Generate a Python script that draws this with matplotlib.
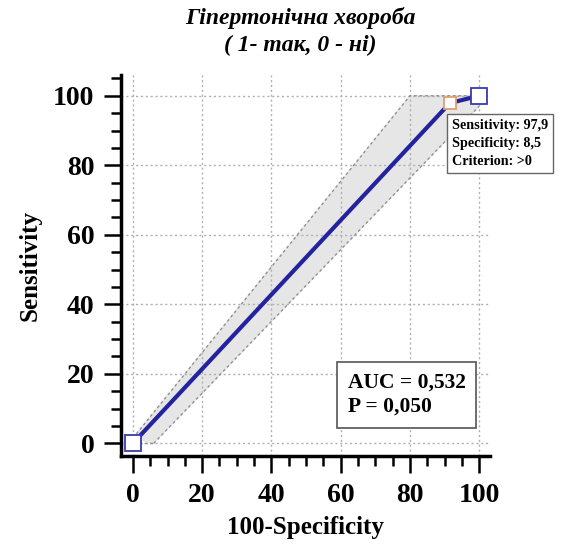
import matplotlib.pyplot as plt
from matplotlib.ticker import MultipleLocator

# ROC curve points (100-Specificity, Sensitivity)
fpr = [0, 91.5, 100]
tpr = [0, 97.9, 100]

# 95% confidence band around the curve
band_upper_x = [0, 80, 100]
band_upper_y = [1.5, 100, 100]
band_lower_x = [6, 100]
band_lower_y = [0, 97]

title = "Гіпертонічна хвороба\n( 1- так, 0 - ні)"
auc_text = "AUC = 0,532\nP = 0,050"
point_text = "Sensitivity: 97,9\nSpecificity: 8,5\nCriterion: >0"

plt.rcParams['font.family'] = ['Liberation Serif', 'DejaVu Serif']

fig = plt.figure(figsize=(5.78, 5.47), dpi=100)
ax = fig.add_axes([0.209, 0.166, 0.638, 0.697])

# confidence band polygon
poly_x = band_upper_x + band_lower_x[::-1]
poly_y = band_upper_y + band_lower_y[::-1]
ax.fill(poly_x, poly_y, color='#e6e6e6', zorder=1)
ax.plot(band_upper_x, band_upper_y, color='#909090', ls=(0, (2, 2)), lw=1, zorder=2)
ax.plot(band_lower_x, band_lower_y, color='#909090', ls=(0, (2, 2)), lw=1, zorder=2)
ax.plot([0, band_lower_x[0]], [0, 0], color='#909090', ls=(0, (2, 2)), lw=1, zorder=2)

# ROC curve
ax.plot(fpr, tpr, color='#2323a0', lw=3, zorder=3)
ax.plot([fpr[0], fpr[2]], [tpr[0], tpr[2]], ls='none', marker='s', ms=11,
        mfc='white', mec='#3a3ab0', mew=1.3, zorder=4)
ax.plot([fpr[1]], [tpr[1]], ls='none', marker='s', ms=9,
        mfc='white', mec='#e0a070', mew=1.3, zorder=4)

ax.set_xlim(-3.5, 103)
ax.set_ylim(-3.7, 106)

ax.xaxis.set_major_locator(MultipleLocator(20))
ax.xaxis.set_minor_locator(MultipleLocator(5))
ax.yaxis.set_major_locator(MultipleLocator(20))
ax.yaxis.set_minor_locator(MultipleLocator(5))
ax.grid(True, which='major', color='#b0b0b0', ls=(0, (1.5, 2)), lw=1, zorder=0)

for side in ['top', 'right']:
    ax.spines[side].set_visible(False)
for side in ['left', 'bottom']:
    ax.spines[side].set_linewidth(2.5)

ax.tick_params(which='major', direction='out', length=12, width=1.8, pad=7,
               labelsize=20)
ax.tick_params(which='minor', direction='out', length=7, width=1.8)
for lab in ax.get_xticklabels() + ax.get_yticklabels():
    lab.set_fontweight('bold')

ax.set_xlabel("100-Specificity", fontsize=18, fontweight='bold', labelpad=6)
ax.set_ylabel("Sensitivity", fontsize=18, fontweight='bold', labelpad=8)

fig.text(0.52, 0.942, title, ha='center', va='center', fontsize=17,
         fontweight='bold', fontstyle='italic', linespacing=1.35)

ax.text(62, 14, auc_text, fontsize=15.5, fontweight='bold', va='center',
        linespacing=1.3,
        bbox=dict(boxstyle='square,pad=0.5', fc='white', ec='#555555', lw=1.2),
        zorder=5)

fig.text(0.782, 0.738, point_text, fontsize=10.2, fontweight='bold', va='center',
         linespacing=1.5,
         bbox=dict(boxstyle='square,pad=0.35', fc='white', ec='#666666', lw=1),
         zorder=6)

fig.savefig("out.png", dpi=100)
